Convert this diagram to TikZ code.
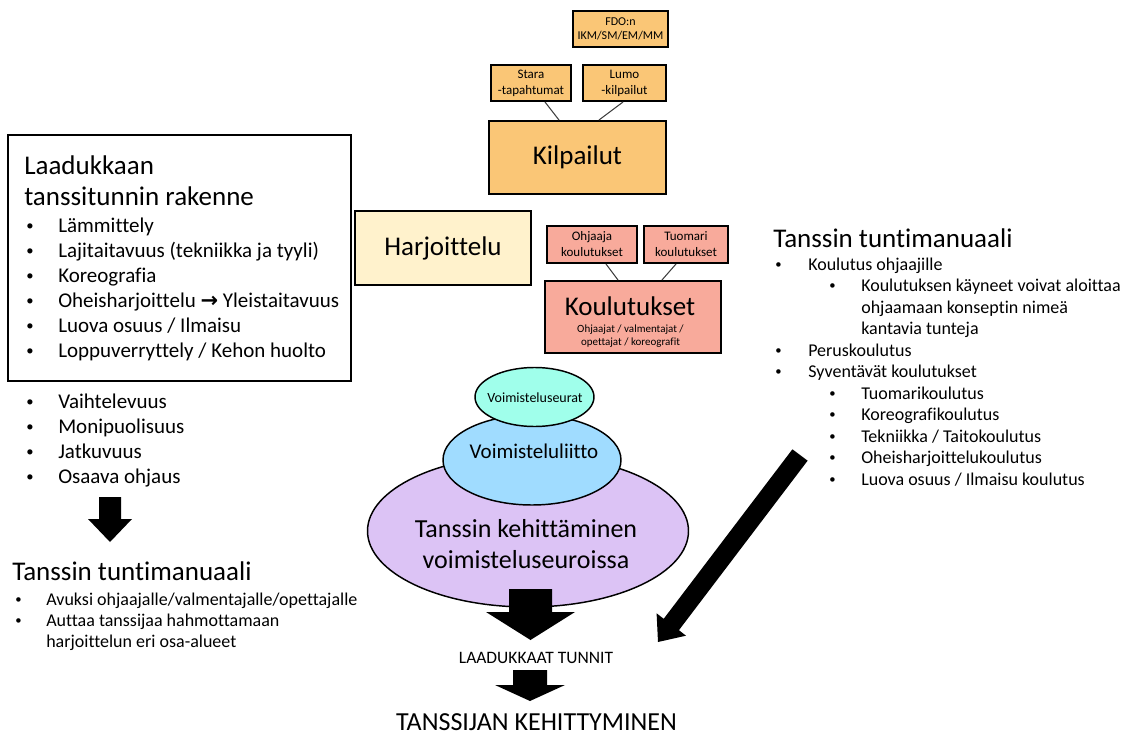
\documentclass[tikz,border=0pt]{standalone}
\usepackage{fontspec}
\setmainfont{Carlito}[Ligatures=NoCommon]
\newfontfamily\symfont{DejaVu Sans}
\usetikzlibrary{shapes.geometric}
\definecolor{kilc}{RGB}{250,198,118}
\definecolor{harc}{RGB}{255,242,204}
\definecolor{kouc}{RGB}{248,170,155}
\definecolor{seuc}{RGB}{160,255,235}
\definecolor{liic}{RGB}{160,220,255}
\definecolor{tanc}{RGB}{220,195,245}
\begin{document}
\begin{tikzpicture}[x=0.75pt,y=-0.75pt,
  box/.style={draw=black,line width=1.5pt,inner sep=0pt,align=center},
  link/.style={draw=black!75,line width=0.8pt},
  ell/.style={draw=black,line width=1.1pt,ellipse,inner sep=0pt},
  blk/.style={fill=black},
  txt/.style={anchor=base west,inner sep=0pt},
  ctxt/.style={anchor=base,inner sep=0pt},
  bulB/.style={txt,font=\fontsize{11pt}{12pt}\selectfont,yshift=1.5pt},
  bulC/.style={txt,font=\fontsize{9.5pt}{11pt}\selectfont,yshift=1.3pt},
  tA/.style={font=\fontsize{20.25pt}{24pt}\selectfont},
  tB/.style={font=\fontsize{15.75pt}{19pt}\selectfont},
  tC/.style={font=\fontsize{13.5pt}{16pt}\selectfont},
  tS/.style={font=\fontsize{9.75pt}{12pt}\selectfont},
  tF/.style={font=\fontsize{9pt}{11pt}\selectfont},
  tX/.style={font=\fontsize{8.25pt}{10.5pt}\selectfont},
  tE/.style={font=\fontsize{10.5pt}{12pt}\selectfont},
  tL/.style={font=\fontsize{19.5pt}{23pt}\selectfont},
  tM/.style={font=\fontsize{13.1pt}{15pt}\selectfont}]
\useasboundingbox (0,0) rectangle (1122,735);

% ---- top: competitions
\node[box,fill=kilc,tF,minimum width=71.25pt,minimum height=27pt] (fdo) at (620.5,29) {FDO:n\\IKM/SM/EM/MM};
\node[box,fill=kilc,tS,minimum width=60pt,minimum height=27pt] (stara) at (531,83) {Stara\\-tapahtumat};
\node[box,fill=kilc,tS,minimum width=62.25pt,minimum height=27pt] (lumo) at (624.5,83) {Lumo\\-kilpailut};
\node[box,fill=kilc,tA,minimum width=132.75pt,minimum height=54.75pt] (kil) at (577.5,157.5) {Kilpailut};
\draw[link] ([xshift=10.5pt]stara.south) -- ([xshift=-13.9pt]kil.north);
\draw[link] ([xshift=-1.1pt]lumo.south) -- ([xshift=16.1pt]kil.north);

% ---- training
\node[box,fill=harc,tA,minimum width=132pt,minimum height=55.5pt] (har) at (443,248) {Harjoittelu};

% ---- education
\node[box,fill=kouc,tS,minimum width=67.5pt,minimum height=27.75pt] (ohj) at (592,244.5) {Ohjaaja\\koulutukset};
\node[box,fill=kouc,tS,minimum width=63pt,minimum height=27.75pt] (tuo) at (686,244.5) {Tuomari\\koulutukset};
\node[box,fill=kouc,minimum width=132pt,minimum height=54pt] (kou) at (633,317) {};
\node[ctxt,tA] (koutitle) at (630,315) {Koulutukset};
\node[ctxt,tX] (kousub1) at (630.5,332) {Ohjaajat / valmentajat /};
\node[ctxt,tX] (kousub2) at (630.5,345) {opettajat / koreografit};
\draw[link] ([xshift=10.5pt]ohj.south) -- ([xshift=-11.25pt]kou.north);
\draw[link] ([xshift=-7.5pt]tuo.south) -- ([xshift=21.75pt]kou.north);

% ---- left box
\node[box,minimum width=257.25pt,minimum height=184.5pt] (lbox) at (179.5,258) {};
\node[txt,tA] (lt1) at (24,175) {Laadukkaan};
\node[txt,tA] (lt2) at (24,205) {tanssitunnin rakenne};
\foreach \i/\t in {0/{Lämmittely},1/{Lajitaitavuus (tekniikka ja tyyli)},2/{Koreografia},3/{Oheisharjoittelu {\symfont\bfseries →} Yleistaitavuus},4/{Luova osuus / Ilmaisu},5/{Loppuverryttely / Kehon huolto}}{
  \node[bulB] (lbb\i) at (26,232+25*\i) {•};
  \node[txt,tB] (lbi\i) at (58,232+25*\i) {\t};
}
\foreach \i/\t in {0/{Vaihtelevuus},1/{Monipuolisuus},2/{Jatkuvuus},3/{Osaava ohjaus}}{
  \node[bulB] (lqb\i) at (26,408+25*\i) {•};
  \node[txt,tB] (lqi\i) at (58,408+25*\i) {\t};
}
\fill[blk] (99,497) -- (121,497) -- (121,519) -- (132,519) -- (110,542) -- (88,519) -- (99,519) -- cycle;

% ---- left bottom manual
\node[txt,tA] (lmt) at (12,580) {Tanssin tuntimanuaali};
\node[bulC] (lmb1) at (15,605) {•};
\node[txt,tC] (lmi1) at (46,605) {Avuksi ohjaajalle/valmentajalle/opettajalle};
\node[bulC] (lmb2) at (15,626) {•};
\node[txt,tC] (lmi2) at (46,626) {Auttaa tanssijaa hahmottamaan};
\node[txt,tC] (lmi3) at (46,647) {harjoittelun eri osa-alueet};

% ---- right manual
\node[txt,tA] (rmt) at (773,247) {Tanssin tuntimanuaali};
\foreach \i/\l/\b/\t in {0/1/1/{Koulutus ohjaajille},1/2/1/{Koulutuksen käyneet voivat aloittaa},2/2/0/{ohjaamaan konseptin nimeä},3/2/0/{kantavia tunteja},4/1/1/{Peruskoulutus},5/1/1/{Syventävät koulutukset},6/2/1/{Tuomarikoulutus},7/2/1/{Koreografikoulutus},8/2/1/{Tekniikka / Taitokoulutus},9/2/1/{Oheisharjoittelukoulutus},10/2/1/{Luova osuus / Ilmaisu koulutus}}{
  \ifnum\l=1
    \node[bulC] (rb\i) at (775,270+21.5*\i) {•};
    \node[txt,tC] (ri\i) at (808,270+21.5*\i) {\t};
  \else
    \ifnum\b=1 \node[bulC] (rb\i) at (829,270+21.5*\i) {•}; \fi
    \node[txt,tC] (ri\i) at (861,270+21.5*\i) {\t};
  \fi
}

% ---- ellipses
\node[ell,fill=tanc,minimum width=240.75pt,minimum height=114pt] (tan) at (528,531) {};
\node[ctxt,tL] (tant1) at (526,537) {Tanssin kehittäminen};
\node[ctxt,tL] (tant2) at (526,568) {voimisteluseuroissa};
\node[ell,fill=liic,minimum width=133.5pt,minimum height=67.5pt] (lii) at (532,460) {};
\node[ctxt,tB] (liit) at (534,458) {Voimisteluliitto};
\node[ell,fill=seuc,minimum width=89.25pt,minimum height=44.25pt] (seu) at (534.5,397) {};
\node[ctxt,tE] (seut) at (535,402) {Voimisteluseurat};

% ---- central arrows and results
\fill[blk] (509,589) -- (552,589) -- (552,612) -- (575,612) -- (530.5,640) -- (486,612) -- (509,612) -- cycle;
\node[ctxt,tM] (laad) at (536,663) {LAADUKKAAT TUNNIT};
\fill[blk] (513,670) -- (547,670) -- (547,685) -- (565,685) -- (530,701) -- (495,685) -- (513,685) -- cycle;
\node[ctxt,tL] (kehi) at (536.5,730) {TANSSIJAN KEHITTYMINEN};

% ---- diagonal arrow
\fill[blk] (807.6,460.7) -- (678.9,630.2) -- (686.0,635.7) -- (658,642) -- (656.6,613.3) -- (663.7,618.8) -- (792.4,449.3) -- cycle;
\end{tikzpicture}
\end{document}
